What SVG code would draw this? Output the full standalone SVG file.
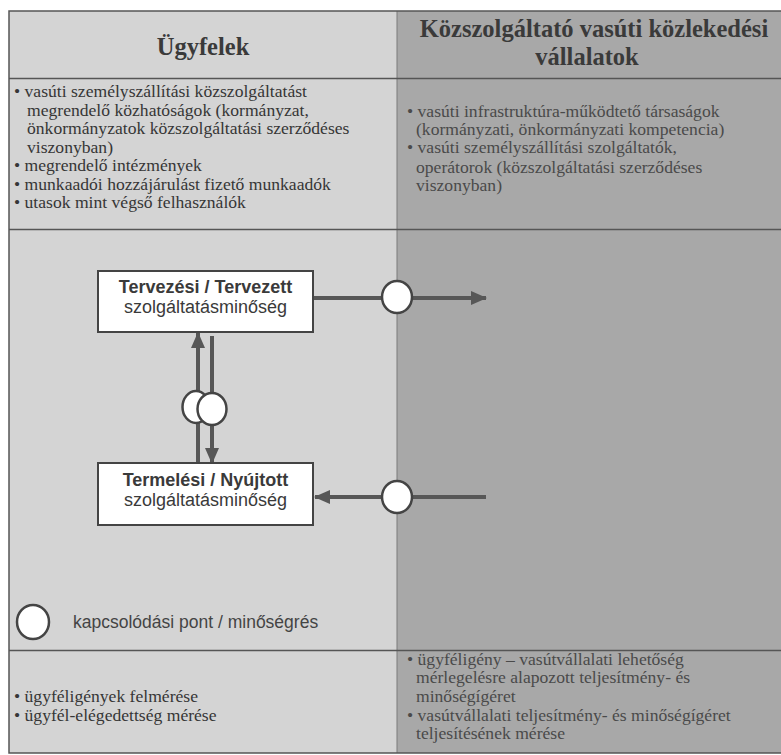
<svg xmlns="http://www.w3.org/2000/svg" width="781" height="755" viewBox="0 0 781 755">
<defs>
<style>
.hd{font-family:"Liberation Serif",serif;font-weight:bold;font-size:24.5px;fill:#3a3a3a;text-anchor:middle}
.bl{font-family:"Liberation Serif",serif;font-size:17.6px;fill:#363636}
.br{font-family:"Liberation Serif",serif;font-size:17.6px;fill:#4a4a4a}
.nb{font-family:"Liberation Sans",Arial,sans-serif;font-size:18px;fill:#3a3a3a;text-anchor:middle}
.nb .b{font-weight:bold}
.box{fill:#ffffff;stroke:#444;stroke-width:2}
.con{stroke:#575757;stroke-width:4;fill:none}
.pt{fill:#ffffff;stroke:#444;stroke-width:2.5}
.grid{stroke:#555;stroke-width:1.5;fill:none}
.lg{font-family:"Liberation Sans",Arial,sans-serif;font-size:17.5px;fill:#444}
</style>
<marker id="ah" viewBox="0 0 16 14" refX="15" refY="7" markerWidth="16" markerHeight="14" markerUnits="userSpaceOnUse" orient="auto">
<path d="M0,0 L16,7 L0,14 z" fill="#575757"/>
</marker>
</defs>

<g id="background">
<rect x="9" y="11" width="388" height="742" fill="#d4d4d4"/>
<rect x="397" y="11" width="384" height="742" fill="#a8a8a8"/>
<line x1="397" y1="11" x2="397" y2="753" stroke="#7a7a7a" stroke-width="1"/>
<rect class="grid" x="9" y="11" width="775" height="742"/>
<line class="grid" x1="9" y1="78.5" x2="781" y2="78.5"/>
<line class="grid" x1="9" y1="229.5" x2="781" y2="229.5"/>
<line class="grid" x1="9" y1="650.5" x2="781" y2="650.5"/>
</g>

<g id="header-left">
<text class="hd" x="203" y="55">Ügyfelek</text>
</g>
<g id="header-right">
<text class="hd" x="594" y="37">Közszolgáltató vasúti közlekedési</text>
<text class="hd" x="587" y="65">vállalatok</text>
</g>

<g id="clients-list">
<text class="bl" x="14" y="97">• vasúti személyszállítási közszolgáltatást</text>
<text class="bl" x="27" y="115.5">megrendelő közhatóságok (kormányzat,</text>
<text class="bl" x="27" y="134">önkormányzatok közszolgáltatási szerződéses</text>
<text class="bl" x="27" y="152.5">viszonyban)</text>
<text class="bl" x="14" y="171">• megrendelő intézmények</text>
<text class="bl" x="14" y="189.5">• munkaadói hozzájárulást fizető munkaadók</text>
<text class="bl" x="14" y="208">• utasok mint végső felhasználók</text>
</g>

<g id="companies-list">
<text class="br" x="407" y="116.5">• vasúti infrastruktúra-működtető társaságok</text>
<text class="br" x="416" y="135">(kormányzati, önkormányzati kompetencia)</text>
<text class="br" x="407" y="153">• vasúti személyszállítási szolgáltatók,</text>
<text class="br" x="416" y="172.5">operátorok (közszolgáltatási szerződéses</text>
<text class="br" x="416" y="191">viszonyban)</text>
</g>

<g id="connectors">
<line class="con" x1="313" y1="298" x2="382" y2="298"/>
<line class="con" x1="412" y1="298" x2="486" y2="298" marker-end="url(#ah)"/>
<line class="con" x1="486" y1="497" x2="412" y2="497"/>
<line class="con" x1="382" y1="497" x2="315" y2="497" marker-end="url(#ah)"/>
<line class="con" x1="198" y1="463" x2="198" y2="333" marker-end="url(#ah)"/>
<line class="con" x1="212" y1="336" x2="212" y2="463" marker-end="url(#ah)"/>
</g>

<g id="node-planned">
<rect class="box" x="98" y="271" width="215" height="61"/>
<text class="nb" x="205.5" y="293"><tspan class="b">Tervezési / Tervezett</tspan></text>
<text class="nb" x="205.5" y="313">szolgáltatásminőség</text>
</g>

<g id="node-delivered">
<rect class="box" x="98" y="463" width="215" height="62"/>
<text class="nb" x="205.5" y="486"><tspan class="b">Termelési / Nyújtott</tspan></text>
<text class="nb" x="205.5" y="506">szolgáltatásminőség</text>
</g>

<g id="points">
<ellipse class="pt" cx="397" cy="297" rx="15" ry="16"/>
<ellipse class="pt" cx="397" cy="497" rx="15" ry="16"/>
<ellipse class="pt" cx="196" cy="407" rx="13.5" ry="16"/>
<ellipse class="pt" cx="212" cy="409" rx="14.5" ry="16"/>
</g>

<g id="legend">
<ellipse class="pt" cx="33" cy="622" rx="16" ry="17"/>
<text class="lg" x="73" y="628">kapcsolódási pont / minőségrés</text>
</g>

<g id="measure-left">
<text class="bl" x="14" y="702">• ügyféligények felmérése</text>
<text class="bl" x="14" y="720.5">• ügyfél-elégedettség mérése</text>
</g>

<g id="measure-right">
<text class="br" x="407" y="664.5">• ügyféligény – vasútvállalati lehetőség</text>
<text class="br" x="416" y="683">mérlegelésre alapozott teljesítmény- és</text>
<text class="br" x="416" y="701.5">minőségígéret</text>
<text class="br" x="407" y="720.5">• vasútvállalati teljesítmény- és minőségígéret</text>
<text class="br" x="416" y="739">teljesítésének mérése</text>
</g>
</svg>
